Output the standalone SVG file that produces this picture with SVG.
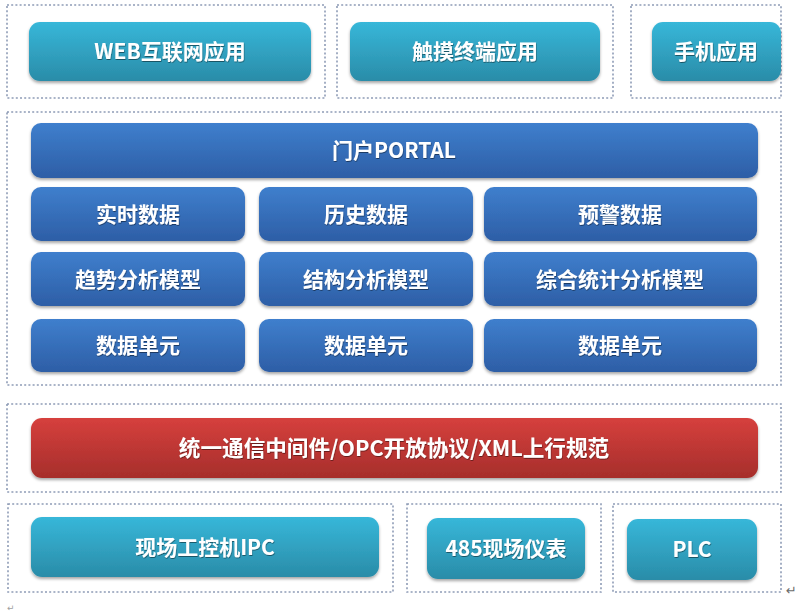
<svg xmlns="http://www.w3.org/2000/svg" width="800" height="615" viewBox="0 0 800 615">
<defs>
  <linearGradient id="gTeal" x1="0" y1="0" x2="0" y2="1">
    <stop offset="0" stop-color="#37b7d9"/>
    <stop offset="1" stop-color="#2a8ca8"/>
  </linearGradient>
  <linearGradient id="gBlue" x1="0" y1="0" x2="0" y2="1">
    <stop offset="0" stop-color="#3f7fcd"/>
    <stop offset="1" stop-color="#2d5ea6"/>
  </linearGradient>
  <linearGradient id="gRed" x1="0" y1="0" x2="0" y2="1">
    <stop offset="0" stop-color="#d6403d"/>
    <stop offset="1" stop-color="#a62e2b"/>
  </linearGradient>
  <filter id="sh" x="-5%" y="-20%" width="110%" height="150%">
    <feDropShadow dx="0" dy="2" stdDeviation="1.5" flood-color="#000" flood-opacity="0.35"/>
  </filter>
  <filter id="tsh" x="-5%" y="-20%" width="110%" height="150%">
    <feDropShadow dx="0.5" dy="1" stdDeviation="0.6" flood-color="#000" flood-opacity="0.45"/>
  </filter>
</defs>
<style>
  .frame { fill: none; stroke: #8e9cb6; stroke-width: 1.6; stroke-dasharray: 2 2.2; }
  .teal { fill: url(#gTeal); filter: url(#sh); }
  .blue { fill: url(#gBlue); filter: url(#sh); }
  .red { fill: url(#gRed); filter: url(#sh); }
  .lbl { font-family: "Noto Sans CJK SC", "Noto Sans", sans-serif; font-weight: bold; fill: #ffffff; text-anchor: middle; filter: url(#tsh); }
  .l21 { font-size: 21px; }
  .l22 { font-size: 21.6px; }
  .mark { font-family: "DejaVu Sans", sans-serif; fill: #6b6b6b; font-size: 13px; }
</style>
<rect width="800" height="615" fill="#ffffff"/>

<g id="frames">
  <rect class="frame" x="7" y="5" width="318" height="93"/>
  <rect class="frame" x="337" y="5" width="276" height="93"/>
  <rect class="frame" x="631" y="5" width="150" height="93"/>
  <rect class="frame" x="7" y="112" width="774" height="273"/>
  <rect class="frame" x="7" y="404" width="774" height="88"/>
  <rect class="frame" x="8" y="504" width="385" height="88"/>
  <rect class="frame" x="407" y="504" width="194" height="88"/>
  <rect class="frame" x="613" y="504" width="168" height="88"/>
</g>

<g id="connectors"></g>

<g id="n-web">
  <rect class="teal" x="29" y="22" width="282" height="59" rx="11"/>
  <text class="lbl l21" x="170" y="59">WEB互联网应用</text>
</g>
<g id="n-touch">
  <rect class="teal" x="350" y="22" width="250" height="59" rx="11"/>
  <text class="lbl l21" x="475" y="59">触摸终端应用</text>
</g>
<g id="n-mobile">
  <rect class="teal" x="652" y="22" width="129" height="59" rx="11"/>
  <text class="lbl l21" x="716" y="59">手机应用</text>
</g>

<g id="n-portal">
  <rect class="blue" x="31" y="123" width="727" height="55" rx="10"/>
  <text class="lbl l21" x="394" y="158">门户PORTAL</text>
</g>

<g id="n-realtime">
  <rect class="blue" x="31" y="187" width="214" height="54" rx="10"/>
  <text class="lbl l21" x="138" y="222">实时数据</text>
</g>
<g id="n-history">
  <rect class="blue" x="259" y="187" width="214" height="54" rx="10"/>
  <text class="lbl l21" x="366" y="222">历史数据</text>
</g>
<g id="n-warning">
  <rect class="blue" x="484" y="187" width="273" height="54" rx="10"/>
  <text class="lbl l21" x="620" y="222">预警数据</text>
</g>

<g id="n-trend">
  <rect class="blue" x="31" y="252" width="214" height="54" rx="10"/>
  <text class="lbl l21" x="138" y="287">趋势分析模型</text>
</g>
<g id="n-struct">
  <rect class="blue" x="259" y="252" width="214" height="54" rx="10"/>
  <text class="lbl l21" x="366" y="287">结构分析模型</text>
</g>
<g id="n-stat">
  <rect class="blue" x="484" y="252" width="273" height="54" rx="10"/>
  <text class="lbl l21" x="620" y="287">综合统计分析模型</text>
</g>

<g id="n-unit1">
  <rect class="blue" x="31" y="319" width="214" height="53" rx="10"/>
  <text class="lbl l21" x="138" y="353">数据单元</text>
</g>
<g id="n-unit2">
  <rect class="blue" x="259" y="319" width="214" height="53" rx="10"/>
  <text class="lbl l21" x="366" y="353">数据单元</text>
</g>
<g id="n-unit3">
  <rect class="blue" x="484" y="319" width="273" height="53" rx="10"/>
  <text class="lbl l21" x="620" y="353">数据单元</text>
</g>

<g id="n-middleware">
  <rect class="red" x="31" y="418" width="727" height="60" rx="11"/>
  <text class="lbl l22" x="394" y="456">统一通信中间件/OPC开放协议/XML上行规范</text>
</g>

<g id="n-ipc">
  <rect class="teal" x="31" y="517" width="348" height="60" rx="11"/>
  <text class="lbl l21" x="205" y="555">现场工控机IPC</text>
</g>
<g id="n-485">
  <rect class="teal" x="427" y="518" width="158" height="61" rx="11"/>
  <text class="lbl l21" x="506" y="556">485现场仪表</text>
</g>
<g id="n-plc">
  <rect class="teal" x="627" y="519" width="130" height="61" rx="11"/>
  <text class="lbl l21" x="692" y="557">PLC</text>
</g>

<text class="mark" x="786" y="595">↵</text>
<text class="mark" x="7" y="611" style="font-size:9px;fill:#a0a0a0">↵</text>
</svg>
